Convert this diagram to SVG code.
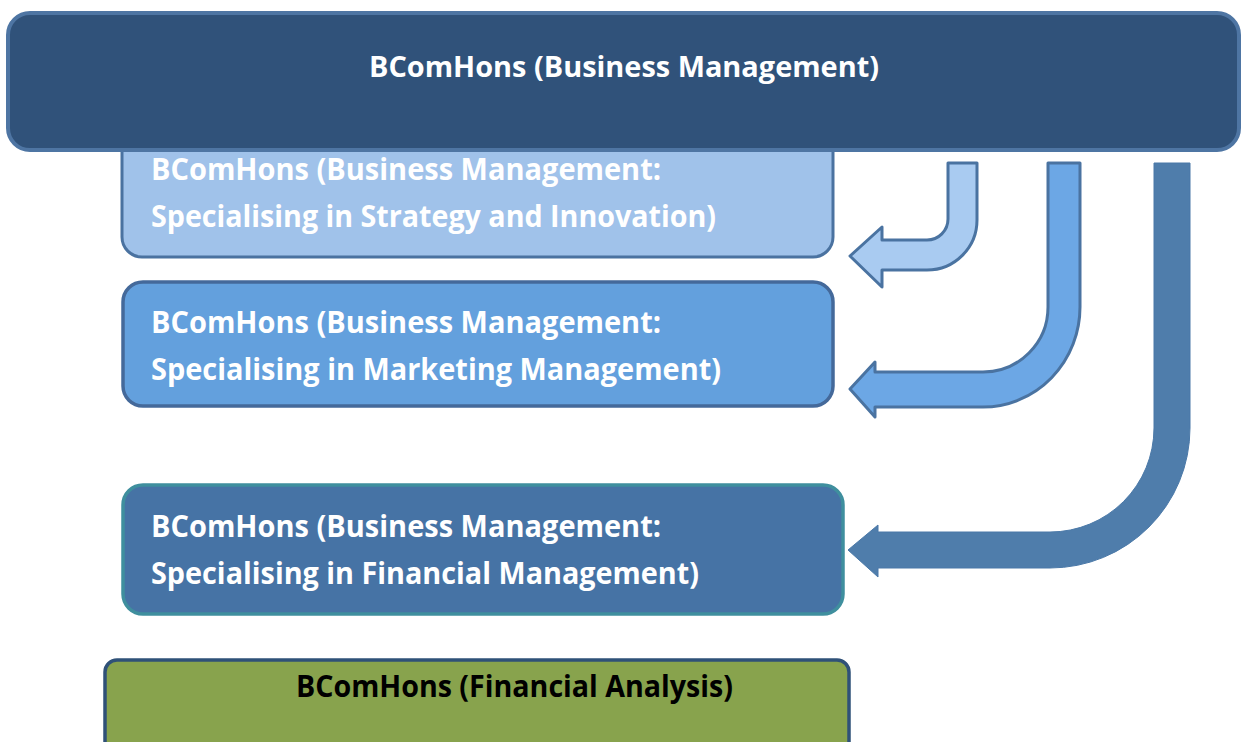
<svg xmlns="http://www.w3.org/2000/svg" width="1241" height="742" viewBox="0 0 1241 742">
<style>
.t{font-family:"Open Sans","Liberation Sans",sans-serif;font-weight:bold;fill:#ffffff}
.tb{font-family:"Open Sans","Liberation Sans",sans-serif;font-weight:bold;fill:#000000}
.arr{stroke:#4A73A1;stroke-width:3;stroke-linejoin:round}
</style>
<rect width="1241" height="742" fill="#ffffff"/>
<g id="node-strategy">
<rect x="122" y="120" width="711" height="137" rx="20" fill="#A0C2EA" stroke="#4A72A0" stroke-width="3"/>
<text class="t" x="151" y="180" font-size="30" textLength="510" lengthAdjust="spacingAndGlyphs">BComHons (Business Management:</text>
<text class="t" x="151" y="227" font-size="30" textLength="565" lengthAdjust="spacingAndGlyphs">Specialising in Strategy and Innovation)</text>
</g>
<g id="node-top">
<rect x="8" y="13" width="1231" height="137" rx="22" fill="#30527A" stroke="#4E75A3" stroke-width="4"/>
<text class="t" x="369" y="77" font-size="28" textLength="510" lengthAdjust="spacingAndGlyphs">BComHons (Business Management)</text>
</g>
<g id="node-marketing">
<rect x="123" y="282" width="710" height="124" rx="20" fill="#63A0DD" stroke="#44699A" stroke-width="3.5"/>
<text class="t" x="151" y="333" font-size="30" textLength="510" lengthAdjust="spacingAndGlyphs">BComHons (Business Management:</text>
<text class="t" x="151" y="380" font-size="30" textLength="570" lengthAdjust="spacingAndGlyphs">Specialising in Marketing Management)</text>
</g>
<g id="node-financial">
<rect x="123" y="485" width="720" height="129" rx="20" fill="#4673A5" stroke="#3F8F9E" stroke-width="3.5"/>
<text class="t" x="151" y="537" font-size="30" textLength="510" lengthAdjust="spacingAndGlyphs">BComHons (Business Management:</text>
<text class="t" x="151" y="584" font-size="30" textLength="548" lengthAdjust="spacingAndGlyphs">Specialising in Financial Management)</text>
</g>
<g id="node-analysis">
<rect x="105" y="660" width="744" height="100" rx="12" fill="#88A34D" stroke="#2F5178" stroke-width="3.5"/>
<text class="tb" x="296" y="697" font-size="30" textLength="437" lengthAdjust="spacingAndGlyphs">BComHons (Financial Analysis)</text>
</g>
<g id="connectors">
<path class="arr" fill="#A9CBF1" d="M 948 163 L 977 163 L 977 220 A 50 50 0 0 1 927 270 L 882 270 L 882 287 L 850 256 L 882 227 L 882 240 L 927 240 A 21 21 0 0 0 948 219 Z"/>
<path class="arr" fill="#6CA7E5" d="M 1048 163 L 1080 163 L 1080 307 A 97 100 0 0 1 983 407 L 875 407 L 875 417 L 850 389 L 875 362 L 875 372 L 983 372 A 65 65 0 0 0 1048 307 Z"/>
<path fill="#4F7DAB" stroke="#4B79A8" stroke-width="1" d="M 1154 163 L 1190 163 L 1190 428 A 140 140 0 0 1 1050 568 L 878 568 L 878 577 L 848 550 L 878 525 L 878 532 L 1050 532 A 104 104 0 0 0 1154 428 Z"/>
</g>
</svg>
